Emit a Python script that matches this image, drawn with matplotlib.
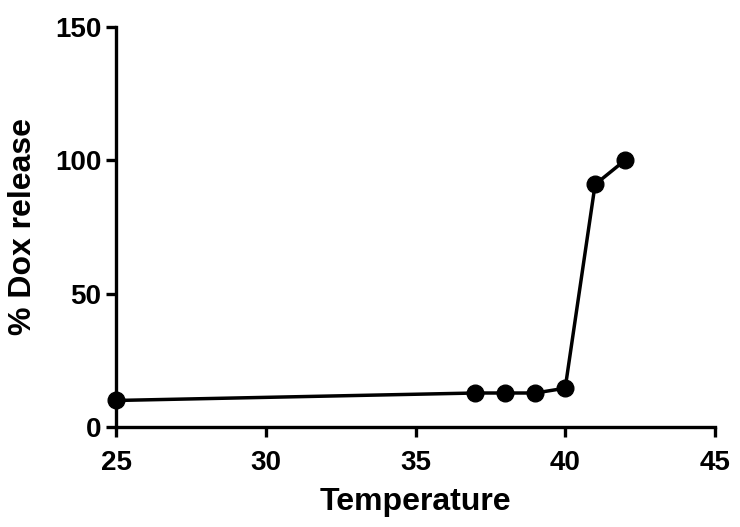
import matplotlib
matplotlib.use("Agg")
import matplotlib.pyplot as plt

temperature = [25, 37, 38, 39, 40, 41, 42]
dox_release = [9.9, 12.7, 12.7, 12.7, 14.5, 90.9, 100.0]
x_ticks = [25, 30, 35, 40, 45]
y_ticks = [0, 50, 100, 150]

plt.rcParams['font.family'] = ['Liberation Sans', 'DejaVu Sans']
plt.rcParams['font.weight'] = 'bold'

fig = plt.figure(figsize=(7.40, 5.27), dpi=100)
ax = fig.add_axes([0.157, 0.19, 0.809, 0.759])
ax.plot(temperature, dox_release, color='black', lw=2.5, marker='o',
        markersize=12, clip_on=False, zorder=3)
ax.set_xlim(25, 45)
ax.set_ylim(0, 150)
ax.set_xticks(x_ticks)
ax.set_yticks(y_ticks)
for s in ['top', 'right']:
    ax.spines[s].set_visible(False)
for s in ['left', 'bottom']:
    ax.spines[s].set_linewidth(2.4)
ax.tick_params(width=2.4, length=7.2, labelsize=20, direction='out')
ax.tick_params(axis='y', pad=3.5)
ax.tick_params(axis='x', pad=9.5)
for lab in ax.get_xticklabels() + ax.get_yticklabels():
    lab.set_fontweight('bold')
ax.set_xlabel('Temperature', fontsize=23, fontweight='bold', labelpad=8)
ax.set_ylabel('% Dox release', fontsize=23, fontweight='bold', labelpad=12)
fig.savefig('out.png', dpi=100)
